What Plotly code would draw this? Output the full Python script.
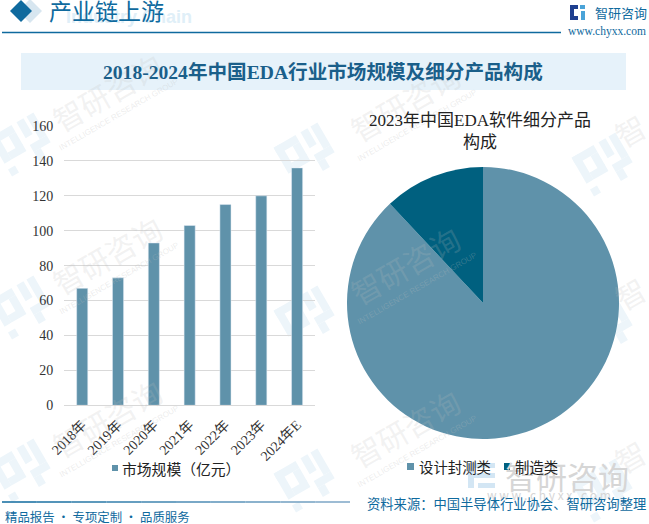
import math
import plotly.graph_objects as go

W, H = 649, 524
years = ["2018年", "2019年", "2020年", "2021年", "2022年", "2023年", "2024年E"]
market_size = [67, 73, 93, 103, 115, 120, 136]
segments = ["设计封测类", "制造类"]
segment_share = [88, 12]
y_ticks = [0, 20, 40, 60, 80, 100, 120, 140, 160]
bar_name = "市场规模（亿元）"
main_title = "2018-2024年中国EDA行业市场规模及细分产品构成"
pie_title = "2023年中国EDA软件细分产品<br>构成"
header = "产业链上游"
source = "资料来源：中国半导体行业协会、智研咨询整理"
footer = "精品报告 · 专项定制 · 品质服务"

SERIF = "Liberation Serif, Noto Sans CJK SC"
SANS = "Noto Sans CJK SC, sans-serif"
BAR = "#5f92aa"
DARK = "#00607f"
BLUE = "#0f6a9e"
FAINT = "#edf5fa"

def px(x): return x / W
def py(y): return 1 - y / H

def poly(points, color, layer="above"):
    d = "M " + " L ".join(f"{px(x)} {py(y)}" for x, y in points) + " Z"
    return dict(type="path", xref="paper", yref="paper", path=d, fillcolor=color, line_width=0, layer=layer)

def rect(x0, y0, x1, y1, color, layer="above"):
    return poly([(x0, y0), (x1, y0), (x1, y1), (x0, y1)], color, layer)

def diamond(cx, cy, r, color):
    return poly([(cx - r, cy), (cx, cy - r), (cx + r, cy), (cx, cy + r)], color)

LOGO_PARTS = [(-22, -20, 0, -13), (-22, -20, -15, 6), (-7, -13, 0, 0), (-15, -1, 0, 6),
              (-22, 12, -15, 19), (5, -20, 12, -4), (5, 3, 22, 10), (15, -20, 22, 3), (5, 10, 12, 19)]

def rotated_logo(cx, cy, ang=-30, s=1.15):
    a = math.radians(ang)
    out = []
    for x0, y0, x1, y1 in LOGO_PARTS:
        pts = []
        for u, v in [(x0, y0), (x1, y0), (x1, y1), (x0, y1)]:
            u, v = u * s, v * s
            pts.append((cx + u * math.cos(a) - v * math.sin(a), cy + u * math.sin(a) + v * math.cos(a)))
        out.append(poly(pts, FAINT, "below"))
    return out

fig = go.Figure()
fig.add_trace(go.Bar(x=years, y=market_size, name=bar_name, marker_color=BAR, width=0.31,
                     showlegend=False, hoverinfo="skip"))
fig.add_trace(go.Pie(labels=segments, values=segment_share, sort=False, direction="clockwise",
                     rotation=0, textinfo="none", marker=dict(colors=[BAR, DARK], line_width=0),
                     domain=dict(x=[px(347), px(619)], y=[py(439), py(167)]),
                     showlegend=False, hoverinfo="skip"))

shapes = []
for col, lx in enumerate([23, 307, 605]):
    for row in range(3):
        shapes += rotated_logo(lx, 145 + 10 * col + 163 * row)
shapes += [
    rect(21, 53, 626, 90, "#e6f2fa", "below"),
    dict(type="line", xref="paper", yref="paper", x0=px(2), x1=px(561), y0=py(32.5), y1=py(32.5),
         line=dict(color=BLUE, width=1.3)),
    diamond(30, 11, 12, "#d7e6f0"),
    diamond(21, 11, 11, BLUE),
    # header logo
    rect(570, 5, 578, 9, "#1f3f8f"), rect(570, 5, 574, 20, "#1f3f8f"), rect(570, 16, 578, 20, "#1f3f8f"),
    rect(580, 5, 585, 9, "#4aa3d8"), rect(581, 11, 585, 20, "#4aa3d8"),
    # bottom-right logo
    rect(468, 463, 495, 468, "#d3e6f4", "below"), rect(468, 463, 474, 488, "#d3e6f4", "below"),
    rect(474, 473, 495, 478, "#d3e6f4", "below"), rect(478, 483, 495, 488, "#d3e6f4", "below"),
    # legend keys
    rect(112, 465, 118, 471, BAR), rect(407, 463, 414, 470, BAR), rect(504, 463, 510, 470, DARK),
]
# footer rule fading from dark to light blue
n = 10
for i in range(n):
    t = i / (n - 1)
    c = f"rgb({int(15 + t * 110)},{int(106 + t * 60)},{int(158 + t * 40)})"
    shapes.append(dict(type="line", xref="paper", yref="paper",
                       x0=px(2 + 348 * i / n), x1=px(2 + 348 * (i + 1) / n), y0=py(502), y1=py(502),
                       line=dict(color=c, width=1.5)))

def txt(x, y, s, size, color, family=SANS, anchor="left", angle=0):
    return dict(x=px(x), y=py(y), xref="paper", yref="paper", text=s, showarrow=False,
                font=dict(size=size, color=color, family=family), xanchor=anchor, yanchor="middle",
                textangle=angle)

ann = []
for col, (sx, drift) in enumerate([(107, 0), (405, 10)]):
    for row in range(3):
        cy = 255 - 163 + drift + 163 * row
        ann.append(txt(sx, cy, "智研咨询", 30, "rgba(190,190,190,0.2)", anchor="center", angle=-30))
        ann.append(txt(sx + 12, cy + 23, "INTELLIGENCE RESEARCH GROUP", 8, "rgba(190,190,190,0.28)",
                       family="Liberation Sans", anchor="center", angle=-30))
for row in range(3):
    ann.append(txt(630, 130 + 163 * row, "智", 30, "rgba(190,190,190,0.2)", anchor="center", angle=-30))
ann += [
    txt(129, 17, "<b>Industry Chain</b>", 18, "#e0eff8", family="Liberation Sans", anchor="center"),
    txt(47, 12, header, 23, BLUE, family=SERIF),
    txt(593, 12, "智研咨询", 13, BLUE),
    txt(607, 32, "www.chyxx.com", 11.5, BLUE, family=SERIF, anchor="center"),
    txt(323, 72, f"<b>{main_title}</b>", 19.6, "#1a5f8a", family=SERIF, anchor="center"),
    txt(480, 131.5, pie_title, 17, "#222222", family=SERIF, anchor="center"),
    txt(3, 517, footer, 12.4, BLUE),
    txt(567, 475, "智研咨询", 31, "#d6d6d6", anchor="center"),
    txt(549, 494, "w w w . c h y x x . c o m", 12, "#d6d6d6", anchor="center"),
    txt(648, 503, source, 13.3, BLUE, anchor="right"),
    txt(120, 468, bar_name, 14.8, "#222222"),
    txt(417, 466, segments[0], 14.4, "#222222"),
    txt(513, 466, segments[1], 14.4, "#222222"),
]

fig.update_layout(
    width=W, height=H, margin=dict(l=0, r=0, t=0, b=0, autoexpand=False), autosize=False,
    paper_bgcolor="white", plot_bgcolor="rgba(0,0,0,0)",
    shapes=shapes, annotations=ann, showlegend=False,
    xaxis=dict(domain=[px(64.3), px(315)], anchor="y", tickangle=-45, showline=True, linecolor="#d9d9d9",
               showgrid=False, ticks="", ticklabelstandoff=5,
               tickfont=dict(family=SERIF, size=14, color="#333333"), fixedrange=True),
    yaxis=dict(domain=[py(405.3), py(126)], anchor="x", range=[0, 160], tickvals=y_ticks,
               gridcolor="#d9d9d9", zeroline=False, ticks="", ticklabelstandoff=10,
               tickfont=dict(family=SERIF, size=14, color="#333333"), fixedrange=True),
)
fig.write_html("out.html", config=dict(displayModeBar=False),
               post_script="document.body.style.margin='0';")
